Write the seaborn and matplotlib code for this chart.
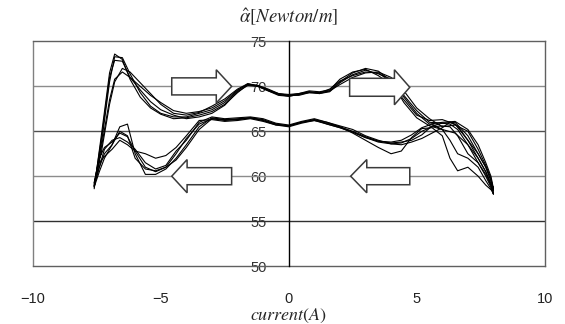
import numpy as np
import pandas as pd
import seaborn as sns
import matplotlib.pyplot as plt
from matplotlib.patches import FancyArrow

# Current sweep positions (A): rising branch then falling branch
x_up = [-7.6, -7.3, -7.0, -6.8, -6.5, -6.2, -5.8, -5.4, -5.0, -4.5, -4.0, -3.5, -3.0, -2.5,
        -2.0, -1.6, -1.2, -0.8, -0.4, 0.0, 0.4, 0.8, 1.2, 1.6, 2.0, 2.5, 3.0, 3.5, 4.0, 4.5,
        5.0, 5.5, 6.0, 6.5, 7.0, 7.4, 7.7, 7.9, 8.0]
x_down = [8.0, 7.9, 7.7, 7.4, 7.0, 6.6, 6.3, 6.0, 5.6, 5.2, 4.8, 4.4, 4.0, 3.5, 3.0, 2.5,
          2.0, 1.5, 1.0, 0.5, 0.0, -0.5, -1.0, -1.5, -2.0, -2.5, -3.0, -3.5, -4.0, -4.4,
          -4.8, -5.2, -5.6, -6.0, -6.3, -6.6, -6.9, -7.2, -7.4, -7.6]

# alpha-hat (Newton/m), five measured loops
up_1 = [58.8, 64.0, 70.5, 73.3, 73.2, 71.4, 69.3, 67.8, 67.0, 66.6, 66.6, 67.0, 67.4, 68.2,
        69.5, 70.3, 70.0, 69.6, 69.1, 68.9, 69.1, 69.4, 69.2, 69.4, 70.4, 71.3, 71.8, 71.4,
        70.8, 69.0, 67.3, 66.0, 65.9, 66.0, 64.5, 62.5, 61.0, 59.5, 58.0]
up_2 = [59.2, 63.5, 68.5, 70.8, 71.6, 71.0, 70.0, 69.0, 68.2, 67.3, 67.0, 67.2, 67.6, 68.4,
        69.6, 70.2, 70.0, 69.5, 69.1, 69.0, 69.2, 69.5, 69.4, 69.6, 70.8, 71.6, 71.9, 71.2,
        70.2, 68.5, 66.8, 66.2, 66.3, 65.8, 64.0, 62.0, 60.5, 59.0, 58.2]
up_3 = [58.6, 65.0, 71.5, 73.6, 73.0, 70.8, 68.8, 67.6, 66.9, 66.4, 66.5, 66.8, 67.2, 68.0,
        69.3, 70.2, 70.1, 69.7, 69.2, 69.0, 69.0, 69.3, 69.3, 69.5, 70.2, 71.0, 71.5, 71.6,
        71.0, 69.5, 67.6, 66.4, 65.5, 65.7, 65.0, 63.0, 61.2, 59.8, 58.4]
up_4 = [59.0, 63.0, 68.0, 70.5, 72.0, 71.6, 70.4, 69.2, 68.0, 67.0, 66.8, 67.1, 67.8, 68.6,
        69.7, 70.3, 70.1, 69.6, 69.2, 69.1, 69.2, 69.4, 69.3, 69.7, 70.6, 71.2, 71.6, 71.5,
        70.5, 68.8, 67.0, 65.8, 66.0, 66.1, 65.2, 63.5, 61.5, 60.0, 58.6]
up_5 = [58.9, 64.5, 71.0, 72.9, 72.8, 71.0, 69.6, 68.3, 67.4, 66.8, 66.4, 66.6, 67.0, 67.9,
        69.4, 70.1, 70.0, 69.5, 69.0, 68.9, 69.1, 69.3, 69.2, 69.5, 70.5, 71.5, 72.0, 71.7,
        70.6, 68.2, 66.5, 65.6, 65.2, 64.8, 63.5, 61.5, 60.2, 59.0, 58.0]

down_1 = [58.0, 58.8, 60.0, 61.5, 62.5, 64.5, 65.5, 65.6, 65.5, 65.0, 64.2, 63.7, 63.6, 63.8,
          64.3, 64.9, 65.4, 65.8, 66.3, 66.0, 65.6, 65.8, 66.3, 66.5, 66.3, 66.3, 66.5, 65.5,
          63.5, 62.0, 60.8, 60.2, 60.2, 62.5, 65.8, 65.5, 63.5, 62.0, 60.5, 58.8]
down_2 = [58.2, 58.5, 59.0, 60.0, 61.0, 60.6, 62.0, 64.5, 65.4, 65.3, 64.3, 62.8, 62.5, 63.2,
          64.0, 64.8, 65.5, 66.0, 66.4, 66.1, 65.7, 65.9, 66.4, 66.6, 66.5, 66.4, 66.6, 66.0,
          64.0, 62.8, 61.2, 60.8, 61.5, 63.0, 63.8, 64.3, 64.0, 63.0, 61.0, 59.0]
down_3 = [58.4, 59.2, 60.5, 62.0, 63.5, 65.2, 65.8, 65.9, 65.6, 64.6, 64.0, 63.8, 63.7, 63.9,
          64.4, 65.0, 65.5, 65.9, 66.2, 65.9, 65.5, 65.7, 66.1, 66.4, 66.2, 66.1, 66.3, 66.2,
          64.5, 63.2, 62.3, 62.0, 62.5, 62.8, 63.5, 64.0, 63.0, 62.2, 61.5, 59.2]
down_4 = [58.6, 59.5, 61.0, 62.5, 64.0, 65.6, 66.0, 65.4, 64.8, 64.2, 63.8, 63.5, 63.6, 64.0,
          64.5, 65.2, 65.6, 66.0, 66.3, 66.0, 65.6, 65.8, 66.2, 66.5, 66.4, 66.3, 66.4, 65.8,
          64.2, 62.5, 61.0, 60.5, 61.0, 62.8, 64.4, 64.8, 63.8, 63.2, 62.0, 59.3]
down_5 = [58.0, 58.6, 59.5, 61.0, 62.0, 62.5, 64.0, 65.2, 65.8, 65.4, 64.6, 64.0, 63.8, 63.9,
          64.3, 64.9, 65.4, 65.8, 66.2, 66.0, 65.6, 65.7, 66.2, 66.5, 66.3, 66.2, 66.4, 65.2,
          63.2, 61.8, 61.0, 60.6, 60.8, 62.0, 64.5, 65.0, 63.5, 62.5, 61.0, 58.9]

ups = [up_1, up_2, up_3, up_4, up_5]
downs = [down_1, down_2, down_3, down_4, down_5]

x_ticks = [-10, -5, 0, 5, 10]
y_ticks = [50, 55, 60, 65, 70, 75]

frames = []
for i, (u, d) in enumerate(zip(ups, downs)):
    frames.append(pd.DataFrame({'current': x_up + x_down, 'alpha': u + d, 'loop': i}))
df = pd.concat(frames, ignore_index=True)

sns.set_theme(style='white')
plt.rcParams['font.family'] = ['Liberation Sans', 'DejaVu Sans']
plt.rcParams['mathtext.fontset'] = 'stix'

fig = plt.figure(figsize=(5.65, 3.24), dpi=100)
ax = fig.add_axes([0.058, 0.179, 0.906, 0.693])

# horizontal gridlines
for yv, c in [(55, '#303030'), (60, '#8c8c8c'), (65, '#505050'), (70, '#8c8c8c')]:
    ax.axhline(yv, color=c, lw=1.0, zorder=1)

sns.lineplot(data=df, x='current', y='alpha', units='loop', estimator=None, sort=False,
             color='black', lw=0.8, legend=False, ax=ax, zorder=2)

# direction arrows: (tail x, y, dx, body width, head width, head length)
arrows = [(-4.57, 70.0, 2.34, 1.9, 3.7, 0.6),
          (2.38, 69.9, 2.35, 2.0, 3.9, 0.6),
          (-2.23, 60.0, -2.34, 1.9, 3.7, 0.6),
          (4.73, 60.0, -2.31, 1.9, 3.7, 0.63)]
for x0, y0, dx, w, hw, hl in arrows:
    ax.add_patch(FancyArrow(x0, y0, dx, 0, width=w, head_width=hw, head_length=hl,
                            length_includes_head=True, facecolor='white',
                            edgecolor='#3a3a3a', lw=1.1, zorder=4))

ax.set_xlim(-10, 10)
ax.set_ylim(50, 75)
ax.set_xticks(x_ticks)
ax.set_yticks(y_ticks)

# y axis drawn through x = 0, box kept in grey
ax.spines['left'].set_position(('data', 0))
ax.spines['left'].set_color('black')
ax.spines['left'].set_linewidth(1.0)
ax.spines['left'].set_zorder(3)
for s in ['top', 'right', 'bottom']:
    ax.spines[s].set_color('#606060')
    ax.spines[s].set_linewidth(1.0)
ax.axvline(-10, color='#808080', lw=1.0, clip_on=False)

ax.tick_params(axis='y', length=0, pad=16, labelsize=10.5, labelcolor='#333333')
ax.tick_params(axis='x', direction='in', length=4, color='#606060', pad=19,
               labelsize=10.5, labelcolor='#222222')

ax.set_xlabel(r'$current(A)$', fontsize=13, labelpad=0)
ax.set_ylabel('')
ax.set_title(r'$\hat{\alpha}[Newton/m]$', fontsize=13.5, pad=13)

fig.savefig('out.png', dpi=100)
